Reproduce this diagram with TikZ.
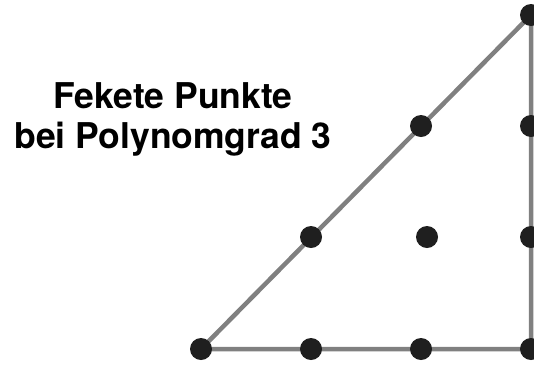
\documentclass[tikz,border=0pt]{standalone}
\usepackage{fontspec}
\setmainfont{TeX Gyre Heros}
\begin{document}
\begin{tikzpicture}[x=1pt,y=-1pt,
  pt/.style={circle,fill=black!88,inner sep=0pt,minimum size=22pt},
  edge/.style={draw=black!50,line width=4.5pt}]
\useasboundingbox (0,0) rectangle (534,365);
% lattice positions
\coordinate (c00) at (201,349);
\coordinate (c10) at (311,349);
\coordinate (c20) at (421,349);
\coordinate (c30) at (531,349);
\coordinate (c11) at (311,237);
\coordinate (c21) at (427,237);
\coordinate (c31) at (531,237);
\coordinate (c22) at (421,126);
\coordinate (c32) at (531,126);
\coordinate (c33) at (531,15);
% triangle edges
\draw[edge] (c00) -- (c30) -- (c33) -- cycle;
% Fekete points
\foreach \n in {00,10,20,30,11,21,31,22,32,33}
  \node[pt] (p\n) at (c\n) {};
% caption (base anchor sits on the last line)
\node[font=\bfseries\fontsize{35.5}{40}\selectfont,align=center,anchor=base] (title) at (173,148)
  {Fekete Punkte\\bei Polynomgrad 3};
\end{tikzpicture}
\end{document}
